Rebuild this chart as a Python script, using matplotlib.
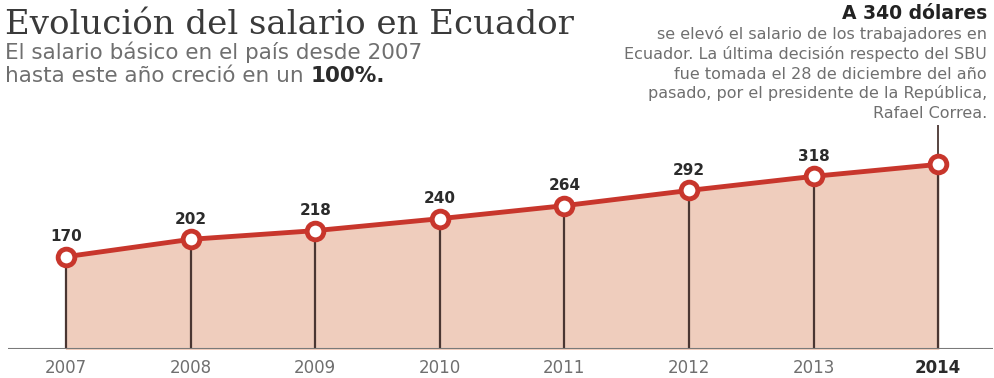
import numpy as np
from matplotlib import pyplot as plt

# datos del salario basico unificado
years = [2007, 2008, 2009, 2010, 2011, 2012, 2013, 2014]
salario = [170, 202, 218, 240, 264, 292, 318, 340]
year_labels = ["2007", "2008", "2009", "2010", "2011", "2012", "2013", "2014"]

titulo = "Evolución del salario en Ecuador"
sub1 = "El salario básico en el país desde 2007"
sub2 = "hasta este año creció en un "
sub2_bold = "100%."
nota_titulo = "A 340 dólares"
nota_lineas = ["se elevó el salario de los trabajadores en",
               "Ecuador. La última decisión respecto del SBU",
               "fue tomada el 28 de diciembre del año",
               "pasado, por el presidente de la República,",
               "Rafael Correa."]

red = "#c8362c"
fill = "#efcdbd"
dark = "#4a3632"
gray = "#6f6f6f"

fig = plt.figure(figsize=(9.95, 3.78), dpi=100)
ax = fig.add_axes([8 / 995, 29 / 378, 985 / 995, 249 / 378])
ax.set_xlim(2006.534, 2014.44)
ax.set_ylim(0, 458.6)
ax.axis("off")

ax.fill_between(years, 0, salario, color=fill, zorder=1)
ax.vlines(years, 0, salario, color=dark, lw=1.6, zorder=2)
ax.plot(years, salario, color=red, lw=3.5, zorder=3)
ax.plot(years, salario, "o", ms=12, mfc="white", mec=red, mew=3.5, zorder=4)
ax.axhline(0, color="#7a7a7a", lw=1.5, zorder=5)

# linea de la nota sobre 2014
ax.vlines(years[-1], salario[-1], 412, color=dark, lw=1.3, zorder=2)

for x, v in zip(years[:-1], salario[:-1]):
    ax.annotate(str(v), (x, v), xytext=(0, 9), textcoords="offset points",
                ha="center", va="bottom", fontsize=11, fontweight="bold",
                color="#2b2b2b", family="DejaVu Sans")

for i, (x, lab) in enumerate(zip(years, year_labels)):
    last = i == len(years) - 1
    ax.annotate(lab, (x, 0), xytext=(0, -7.5), textcoords="offset points",
                ha="center", va="top", fontsize=12,
                fontweight="bold" if last else "normal",
                color="#2b2b2b" if last else gray, family="DejaVu Sans")

fig.text(5 / 995, 1 - 34 / 378, titulo, family="DejaVu Serif", fontsize=24.5,
         color="#3a3a3a", va="baseline")
fig.text(5 / 995, 1 - 59 / 378, sub1, fontsize=15.5, color=gray,
         va="baseline", family="DejaVu Sans")
t2 = fig.text(5 / 995, 1 - 82 / 378, sub2, fontsize=15.5, color=gray,
              va="baseline", family="DejaVu Sans")
fig.canvas.draw()
bb = t2.get_window_extent(fig.canvas.get_renderer())
fig.text(bb.x1 / fig.bbox.width, 1 - 82 / 378, sub2_bold, fontsize=15.5,
         fontweight="bold", color="#2b2b2b", va="baseline", family="DejaVu Sans")

fig.text(987 / 995, 1 - 19 / 378, nota_titulo, ha="right", va="baseline",
         fontsize=13.5, fontweight="heavy", color="#222222", family="DejaVu Sans")
for k, linea in enumerate(nota_lineas):
    fig.text(987 / 995, 1 - (39 + k * 19.8) / 378, linea, ha="right",
             va="baseline", fontsize=11.5, color=gray, family="DejaVu Sans")

fig.savefig("out.png", dpi=100, facecolor="white")
